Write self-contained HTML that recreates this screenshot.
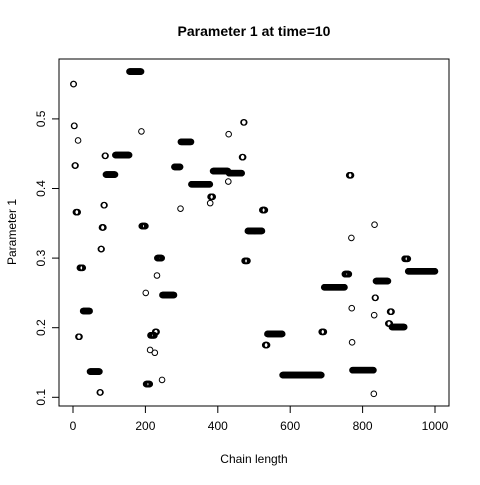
<!DOCTYPE html>
<html><head><meta charset="utf-8"><style>
body{margin:0;background:#fff}
svg text{font-family:"Liberation Sans",sans-serif;fill:#000}
</style></head><body>
<svg id="chart" width="480" height="480" viewBox="0 0 480 480" xmlns="http://www.w3.org/2000/svg">
<rect width="480" height="480" fill="#fff"/>
<text x="254" y="36" font-size="14" font-weight="bold" text-anchor="middle">Parameter 1 at time=10</text>
<text x="254" y="463" font-size="12" text-anchor="middle">Chain length</text>
<text x="16" y="232" font-size="12" text-anchor="middle" transform="rotate(-90 16 232)">Parameter 1</text>
<rect x="59" y="59" width="390" height="347" fill="none" stroke="#000" stroke-width="1"/>
<g id="axes"></g>
<g id="marks"></g>
</svg>
<script>
const runStarts=[1,3,5,8,14,15,19,28,47,74,77,80,85,88,91,117,156,189,190,201,202,213,214,226,227,232,233,246,247,280,297,298,327,379,380,387,429,430,431,467,471,474,483,523,531,537,579,687,694,751,763,769,770,771,772,831,832,833,834,837,871,876,881,916,926];
const runValues=[0.55,0.49,0.433,0.366,0.469,0.187,0.286,0.224,0.137,0.107,0.313,0.344,0.376,0.447,0.42,0.448,0.568,0.482,0.346,0.25,0.119,0.168,0.189,0.164,0.194,0.275,0.3,0.125,0.247,0.431,0.371,0.467,0.406,0.379,0.388,0.425,0.41,0.478,0.422,0.445,0.495,0.296,0.339,0.369,0.175,0.191,0.132,0.194,0.258,0.277,0.419,0.329,0.228,0.179,0.139,0.105,0.218,0.348,0.243,0.267,0.206,0.223,0.201,0.299,0.281];
const nIter=1000;
const xTicks=[0,200,400,600,800,1000];
const yTicks=[0.1,0.2,0.3,0.4,0.5];
const xS=v=>73+v*(435-73)/1000;
const yS=v=>397.3-(v-0.1)*696;
const NS='http://www.w3.org/2000/svg';
const axes=document.getElementById('axes');
const marks=document.getElementById('marks');
function mk(tag,attrs,parent){const e=document.createElementNS(NS,tag);for(const k in attrs)e.setAttribute(k,attrs[k]);parent.appendChild(e);return e;}
xTicks.forEach(t=>{
  const l=mk('line',{x1:xS(t),x2:xS(t),y1:406,y2:413,stroke:'#000'},axes);
  
  
  const tx=mk('text',{x:xS(t),y:430,'font-size':12,'text-anchor':'middle'},axes);
  tx.textContent=t;
  
  
});
yTicks.forEach(t=>{
  const y=yS(t);
  const l=mk('line',{x1:52,x2:59,y1:y,y2:y,stroke:'#000'},axes);
  
  
  const tx=mk('text',{x:45,y:y,'font-size':12,'text-anchor':'middle',transform:`rotate(-90 45 ${y})`},axes);
  tx.textContent=t.toFixed(1);
  
  
});
for(let r=0;r<runStarts.length;r++){
  const end=r+1<runStarts.length?runStarts[r+1]-1:nIter;
  for(let i=runStarts[r];i<=end;i++){
    const c=mk('circle',{cx:xS(i),cy:yS(runValues[r]),r:2.8,fill:'none',stroke:'#000','stroke-width':1},marks);
    
    
  }
}
</script>
</body></html>
